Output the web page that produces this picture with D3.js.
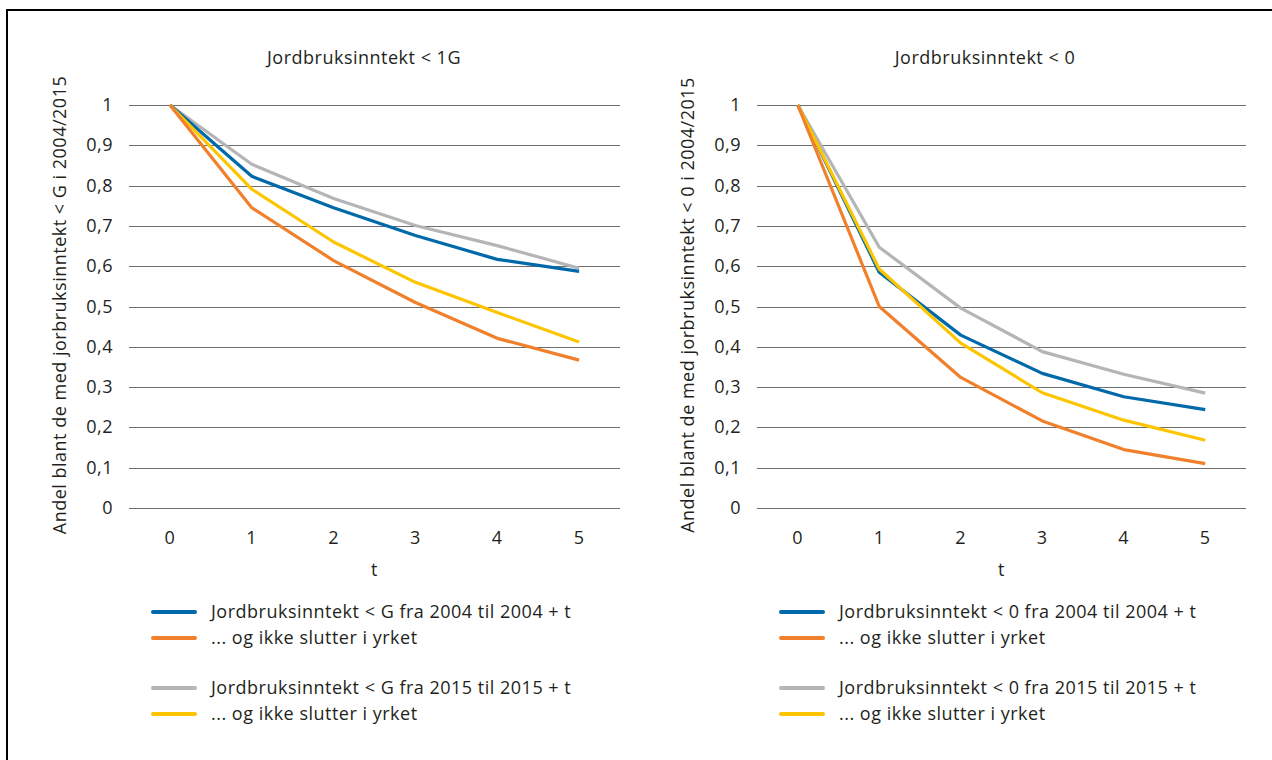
<!DOCTYPE html>
<html><head><meta charset="utf-8">
<script src="https://cdn.jsdelivr.net/npm/d3@7"></script>
<style>body{margin:0;background:#fff;} text{font-family:"Open Sans",sans-serif;fill:#231f20;letter-spacing:0.5px;}</style>
</head><body><svg id="c" width="1272" height="760"></svg>
<script>
const tValues = [0,1,2,3,4,5];
const yTicks = [0,0.1,0.2,0.3,0.4,0.5,0.6,0.7,0.8,0.9,1];
const seriesColors = ["#0069a9","#f0802b","#b4b5b7","#fdc500"];

// Left panel: Jordbruksinntekt < 1G
const leftBlue   = [1,0.823,0.745,0.676,0.617,0.587];
const leftOrange = [1,0.745,0.614,0.510,0.421,0.367];
const leftGray   = [1,0.853,0.768,0.701,0.651,0.595];
const leftYellow = [1,0.791,0.660,0.560,0.485,0.412];
// Right panel: Jordbruksinntekt < 0
const rightBlue   = [1,0.585,0.429,0.334,0.276,0.244];
const rightOrange = [1,0.500,0.324,0.216,0.145,0.110];
const rightGray   = [1,0.647,0.496,0.388,0.332,0.285];
const rightYellow = [1,0.593,0.409,0.286,0.218,0.168];

const leftTitle = "Jordbruksinntekt < 1G";
const rightTitle = "Jordbruksinntekt < 0";
const leftYLabel = "Andel blant de med jorbruksinntekt < G i 2004/2015";
const rightYLabel = "Andel blant de med jorbruksinntekt < 0 i 2004/2015";
const xLabel = "t";
const leftLegend = ["Jordbruksinntekt < G fra 2004 til 2004 + t","... og ikke slutter i yrket","Jordbruksinntekt < G fra 2015 til 2015 + t","... og ikke slutter i yrket"];
const rightLegend = ["Jordbruksinntekt < 0 fra 2004 til 2004 + t","... og ikke slutter i yrket","Jordbruksinntekt < 0 fra 2015 til 2015 + t","... og ikke slutter i yrket"];

const svg = d3.select("#c");
svg.append("rect").attr("x",7).attr("y",10).attr("width",1300).attr("height",800)
  .attr("fill","none").attr("stroke","#000").attr("stroke-width",2);

const fmt = v => v===0?"0":(v===1?"1":d3.format(".1f")(v).replace(".",","));
const FS = 18;

function panel(x0, x1, title, titleX, yLabel, yLabelX, series, legend){
  const x = d3.scaleBand().domain(tValues).range([x0,x1]);
  const y = d3.scaleLinear().domain([0,1]).range([508,105]);
  const g = svg.append("g");
  g.append("g").selectAll("line").data(yTicks).join("line")
    .attr("x1",x0).attr("x2",x1).attr("y1",d=>Math.round(y(d))+0.5).attr("y2",d=>Math.round(y(d))+0.5)
    .attr("stroke","#6d6e70").attr("stroke-width",1);
  g.append("g").selectAll("text").data(yTicks).join("text")
    .attr("x",x0-16).attr("y",d=>y(d)+6).attr("text-anchor","end").attr("font-size",FS).text(fmt);
  g.append("g").selectAll("text").data(tValues).join("text")
    .attr("x",d=>x(d)+x.bandwidth()/2).attr("y",544).attr("text-anchor","middle").attr("font-size",FS).text(d=>d);
  g.append("text").attr("x",(x0+x1)/2).attr("y",576).attr("text-anchor","middle").attr("font-size",FS).text(xLabel);
  g.append("text").attr("x",titleX).attr("y",64).attr("text-anchor","middle").attr("font-size",FS).text(title);
  g.append("text").attr("transform",`translate(${yLabelX},305) rotate(-90)`).attr("text-anchor","middle").attr("font-size",FS).text(yLabel);
  const line = d3.line().x((d,i)=>x(tValues[i])+x.bandwidth()/2).y(d=>y(d));
  const order = [2,0,3,1];
  order.forEach(i=>{
    g.append("path").attr("d",line(series[i])).attr("fill","none")
      .attr("stroke",seriesColors[i]).attr("stroke-width",3.2).attr("stroke-linejoin","round");
  });
  const ly = [612,638,688,714];
  legend.forEach((t,i)=>{
    g.append("line").attr("x1",x0+24).attr("x2",x0+66).attr("y1",ly[i]).attr("y2",ly[i])
      .attr("stroke",seriesColors[i]).attr("stroke-width",4).attr("stroke-linecap","round");
    g.append("text").attr("x",x0+82).attr("y",ly[i]+6).attr("font-size",FS).text(t);
  });
}
panel(129,620,leftTitle,364,leftYLabel,66,[leftBlue,leftOrange,leftGray,leftYellow],leftLegend);
panel(757,1246,rightTitle,985,rightYLabel,694,[rightBlue,rightOrange,rightGray,rightYellow],rightLegend);
</script></body></html>
